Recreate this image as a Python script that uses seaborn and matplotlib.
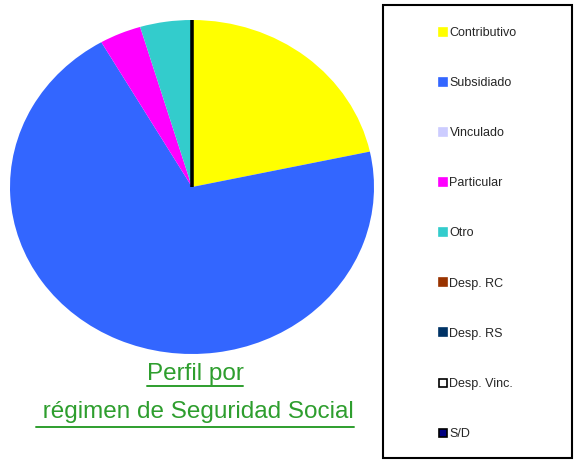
import matplotlib
matplotlib.use("Agg")
import matplotlib.pyplot as plt
from matplotlib.lines import Line2D
from matplotlib.patches import Rectangle
import seaborn as sns

# ----------------------------
# Datos
# ----------------------------
categorias = ["Contributivo", "Subsidiado", "Vinculado", "Particular", "Otro",
              "Desp. RC", "Desp. RS", "Desp. Vinc.", "S/D"]
porcentajes = [21.6, 70.1, 0.0, 3.7, 4.6, 0.0, 0.0, 0.0, 0.0]
colores = ["#FFFF00", "#3366FF", "#CCCCFF", "#FF00FF", "#33CCCC",
           "#993300", "#003366", "#FFFFFF", "#000080"]
bordes = ["none", "none", "none", "none", "none",
          "none", "none", "#000000", "#000000"]
titulo = ["Perfil por", " régimen de Seguridad Social"]

sns.set_theme(style="white")
plt.rcParams["font.family"] = ["Liberation Sans", "DejaVu Sans"]

W, H = 577, 462
fig = plt.figure(figsize=(W / 100, H / 100), dpi=100)
fig.patch.set_facecolor("white")

# pie (elliptical, as in the original)
ax = fig.add_axes([10 / W, (H - 354) / H, 364 / W, 334 / H])
wedges, _ = ax.pie(porcentajes, colors=colores, startangle=90, counterclock=False,
                   radius=1.0, wedgeprops=dict(linewidth=0))
for w, v, b in zip(wedges, porcentajes, bordes):
    if v == 0 and b != "none":
        w.set_edgecolor(b)
        w.set_linewidth(2.2)
ax.set_aspect("auto")
ax.set_xlim(-1, 1)
ax.set_ylim(-1, 1)
ax.axis("off")

# legend box
fig.patches.append(Rectangle((383 / W, (H - 458) / H), 189 / W, 453 / H,
                             transform=fig.transFigure, fill=False,
                             edgecolor="black", linewidth=1.5))
handles = [Line2D([], [], marker="s", linestyle="none", markersize=5.5,
                  markerfacecolor=c, markeredgecolor=(b if b != "none" else c),
                  markeredgewidth=1.2)
           for c, b in zip(colores, bordes)]
fig.legend(handles, categorias, loc="center", bbox_to_anchor=(478 / W, 1 - 233.5 / H),
           frameon=False, fontsize=9, labelspacing=3.05, handlelength=0.6,
           handletextpad=0.2, borderpad=0)

# titulo verde subrayado
verde = "#2E9E2E"
bases = [380, 418]
gaps = [6, 9]
fig.canvas.draw()
renderer = fig.canvas.get_renderer()
for linea, y, g in zip(titulo, bases, gaps):
    t = fig.text(195 / W, 1 - y / H, linea, ha="center", va="baseline",
                 fontsize=17.5, color=verde)
    bb = t.get_window_extent(renderer=renderer)
    yl = (H - y - g) / H
    fig.add_artist(Line2D([bb.x0 / W, bb.x1 / W], [yl, yl],
                          transform=fig.transFigure, color=verde, linewidth=1.4))

fig.savefig("out.png", dpi=100)
